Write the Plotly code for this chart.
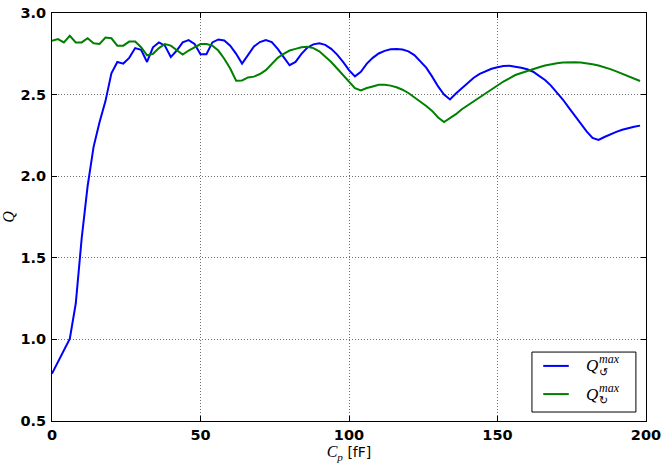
import plotly.graph_objects as go

# Parasitic capacitance C_p [fF]
cp = [0, 2, 4, 6, 8, 10, 12, 14, 16, 18, 20, 22, 24, 26, 28, 30, 32, 34, 36, 38,
      40, 42, 44, 46, 48, 50, 52, 54, 56, 58, 60, 62, 64, 66, 68, 70, 72, 74, 76, 78,
      80, 82, 84, 86, 88, 90, 92, 94, 96, 98, 100, 102, 104, 106, 108, 110, 112, 114, 116, 118,
      120, 122, 124, 126, 128, 130, 132, 134, 136, 138, 140, 142, 144, 146, 148, 150, 152, 154, 156, 158,
      160, 162, 164, 166, 168, 170, 172, 174, 176, 178, 180, 182, 184, 186, 188, 190, 192, 194, 196, 198]

q_cw = [0.79, 0.86, 0.935, 1.005, 1.22, 1.62, 1.94, 2.18, 2.33, 2.46,
        2.63, 2.70, 2.69, 2.725, 2.785, 2.775, 2.70, 2.79, 2.82, 2.80,
        2.73, 2.77, 2.82, 2.834, 2.81, 2.747, 2.747, 2.82, 2.838, 2.832,
        2.80, 2.75, 2.69, 2.745, 2.795, 2.822, 2.834, 2.822, 2.78, 2.73,
        2.68, 2.70, 2.75, 2.788, 2.808, 2.815, 2.805, 2.78, 2.745, 2.70,
        2.65, 2.612, 2.64, 2.69, 2.725, 2.752, 2.768, 2.778, 2.78, 2.776,
        2.765, 2.742, 2.706, 2.665, 2.61, 2.55, 2.50, 2.47, 2.507, 2.54,
        2.575, 2.603, 2.627, 2.645, 2.658, 2.668, 2.675, 2.677, 2.673, 2.665,
        2.655, 2.64, 2.615, 2.59, 2.555, 2.515, 2.47, 2.42, 2.37, 2.32,
        2.275, 2.235, 2.222, 2.24, 2.258, 2.272, 2.285, 2.295, 2.303, 2.31]

q_ccw = [2.83, 2.84, 2.82, 2.86, 2.82, 2.82, 2.845, 2.815, 2.81, 2.85,
         2.845, 2.80, 2.80, 2.825, 2.825, 2.79, 2.74, 2.75, 2.785, 2.81,
         2.80, 2.77, 2.745, 2.77, 2.79, 2.81, 2.81, 2.80, 2.77, 2.72,
         2.66, 2.585, 2.587, 2.605, 2.61, 2.626, 2.65, 2.69, 2.725, 2.75,
         2.77, 2.78, 2.79, 2.793, 2.785, 2.765, 2.735, 2.70, 2.66, 2.62,
         2.58, 2.54, 2.525, 2.54, 2.55, 2.56, 2.56, 2.555, 2.545, 2.53,
         2.51, 2.485, 2.46, 2.43, 2.40, 2.36, 2.332, 2.355, 2.38, 2.41,
         2.435, 2.46, 2.485, 2.51, 2.535, 2.56, 2.58, 2.60, 2.62, 2.632,
         2.645, 2.658, 2.668, 2.678, 2.686, 2.692, 2.696, 2.698, 2.698, 2.696,
         2.692, 2.686, 2.678, 2.668, 2.656, 2.642, 2.627, 2.61, 2.597, 2.583]

x_ticks = [0, 50, 100, 150, 200]
y_ticks = [0.5, 1.0, 1.5, 2.0, 2.5, 3.0]
y_tick_text = ["0.5", "1.0", "1.5", "2.0", "2.5", "3.0"]

BLUE = "#0000ff"
GREEN = "#008000"
SERIF = "Liberation Serif"
SANS = "DejaVu Sans"

fig = go.Figure()
fig.add_trace(go.Scatter(x=cp, y=q_cw, mode="lines",
                         line=dict(color=BLUE, width=2), showlegend=False))
fig.add_trace(go.Scatter(x=cp, y=q_ccw, mode="lines",
                         line=dict(color=GREEN, width=2), showlegend=False))

axis_common = dict(
    showline=True, linecolor="black", linewidth=1, mirror="ticks",
    ticks="inside", ticklen=5, tickcolor="black", tickwidth=1,
    showgrid=True, gridcolor="#707070", gridwidth=1, griddash="1px,2px",
    zeroline=False, automargin=False,
    tickfont=dict(family=SANS, size=14.5, color="black", weight="bold"),
)

fig.update_xaxes(range=[0, 200], tickvals=x_ticks,
                 ticktext=[str(v) for v in x_ticks], ticklabelstandoff=1,
                 title=dict(text=f"<span style='font-family:{SERIF};font-size:16px'><i>C<sub>p</sub></i></span> [fF]",
                            font=dict(family=SANS, size=14, color="black"), standoff=2),
                 **axis_common)
fig.update_yaxes(range=[0.5, 3.0], tickvals=y_ticks, ticktext=y_tick_text,
                 ticklabelstandoff=2,
                 title=dict(text="<i>Q</i>",
                            font=dict(family=SERIF, size=16, color="black"), standoff=14),
                 **axis_common)

# Legend (lower right), drawn in paper coordinates
shapes = [
    dict(type="rect", xref="paper", yref="paper", x0=0.808, x1=0.983, y0=0.022, y1=0.169,
         line=dict(color="black", width=1), fillcolor="white", layer="above"),
    dict(type="line", xref="paper", yref="paper", x0=0.827, x1=0.870, y0=0.135, y1=0.135,
         line=dict(color=BLUE, width=2), layer="above"),
    dict(type="line", xref="paper", yref="paper", x0=0.827, x1=0.870, y0=0.066, y1=0.066,
         line=dict(color=GREEN, width=2), layer="above"),
]
annotations = []
for yc, arrow in [(0.135, "↺"), (0.066, "↻")]:
    annotations.append(dict(xref="paper", yref="paper", x=0.896, y=yc, text="<i>Q</i>",
                            showarrow=False, xanchor="left", yanchor="middle",
                            font=dict(family=SERIF, size=17, color="black")))
    annotations.append(dict(xref="paper", yref="paper", x=0.917, y=yc + 0.016, text="<i>max</i>",
                            showarrow=False, xanchor="left", yanchor="middle",
                            font=dict(family=SERIF, size=12, color="black")))
    annotations.append(dict(xref="paper", yref="paper", x=0.917, y=yc - 0.015, text=arrow,
                            showarrow=False, xanchor="left", yanchor="middle",
                            font=dict(family="DejaVu Sans", size=11, color="black")))

fig.update_layout(
    width=665, height=467,
    margin=dict(l=52, r=19, t=13, b=46, pad=0),
    paper_bgcolor="white", plot_bgcolor="white",
    shapes=shapes, annotations=annotations,
    showlegend=False,
)

fig.write_html("out.html", config={"displayModeBar": False},
               post_script="document.body.style.margin='0';document.body.style.overflow='hidden';")
